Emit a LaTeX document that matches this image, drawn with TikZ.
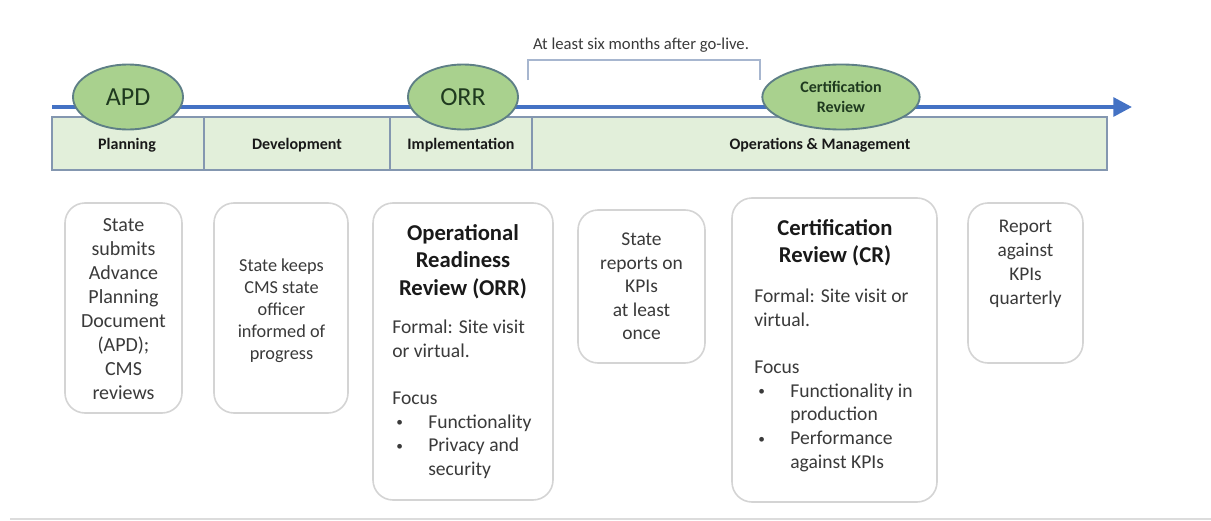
\documentclass[tikz,border=0pt]{standalone}
\usepackage{fontspec}
\setmainfont{Carlito}
\usetikzlibrary{arrows.meta,shapes.geometric}

\definecolor{tlblue}{HTML}{4472C4}
\definecolor{phasefill}{HTML}{E2EFDA}
\definecolor{phaseedge}{HTML}{8497B0}
\definecolor{msfill}{HTML}{A9D18E}
\definecolor{msedge}{HTML}{5E7F86}
\definecolor{mstext}{HTML}{1F3A1F}
\definecolor{cardedge}{HTML}{D4D4D4}
\definecolor{bodytext}{HTML}{3A3A3A}
\definecolor{bracketc}{HTML}{A7B6CF}
\definecolor{rulegray}{HTML}{DCDCDC}

\tikzset{
  phasecell/.style={draw=phaseedge, line width=1.4pt, fill=phasefill},
  phaselabel/.style={font=\bfseries\fontsize{12pt}{14pt}\selectfont, text=black!90, inner sep=0pt},
  milestone/.style={ellipse, draw=msedge, line width=1.4pt, fill=msfill, inner sep=0pt,
    minimum height=48.75pt, text=mstext, align=center},
  card/.style={draw=cardedge, line width=1.2pt, fill=white, rounded corners=15pt},
  cardtext/.style={text=bodytext, inner sep=0pt, align=center, anchor=north},
  cardtitle/.style={text=black!90, inner sep=0pt, align=center, anchor=north,
    font=\bfseries\fontsize{17pt}{20.6pt}\selectfont},
  cardbody/.style={text=bodytext, inner sep=0pt, align=left, anchor=north west,
    font=\fontsize{14.7pt}{17.7pt}\selectfont},
}

% small bullet followed by a fixed indent; \bulgap indents a wrapped line to match
\newcommand{\bul}{\hspace*{3pt}\makebox[24pt][l]{\raisebox{1pt}{\fontsize{10pt}{10pt}\selectfont\textbullet}}}
\newcommand{\bulgap}{\hspace*{27pt}}

\begin{document}
\begin{tikzpicture}[x=0.75pt,y=-0.75pt]
\useasboundingbox (0,0) rectangle (1211,521);

% timeline arrow
\coordinate (tstart) at (52,107);
\coordinate (tend) at (1132,107);
\draw[tlblue, line width=3pt, -{Triangle[length=14pt,width=14pt]}] (tstart) -- (tend);

% duration bracket and its note
\coordinate (brL) at (528,80);
\coordinate (brR) at (760,80);
\draw[bracketc, line width=1.1pt] (brL) -- (528,60) -- (760,60) -- (brR);
\node[text=bodytext, inner sep=0pt, font=\fontsize{12.5pt}{15pt}\selectfont] (note) at (641,45)
  {At least six months after go-live.};

% phase bar
\draw[phasecell] (52,117) rectangle (204,170);
\draw[phasecell] (204,117) rectangle (390,170);
\draw[phasecell] (390,117) rectangle (532,170);
\draw[phasecell] (532,117) rectangle (1107,170);
\node[phaselabel] (planning) at (127,145) {Planning};
\node[phaselabel] (development) at (297,145) {Development};
\node[phaselabel] (implementation) at (461,145) {Implementation};
\node[phaselabel] (operations) at (820,145) {Operations \& Management};

% milestones
\node[milestone, minimum width=82.5pt, font=\fontsize{19.5pt}{23pt}\selectfont] (apd) at (128,97) {APD};
\node[milestone, minimum width=82.5pt, font=\fontsize{19.5pt}{23pt}\selectfont] (orr) at (463,97) {ORR};
\node[milestone, minimum width=118pt, font=\bfseries\fontsize{12pt}{15pt}\selectfont] (cr) at (841,97) {Certification\\Review};

% cards
\draw[card] (65,203) rectangle (182,413);
\draw[card] (214,203) rectangle (348,413);
\draw[card] (373,203) rectangle (553,500);
\draw[card] (578,210) rectangle (705,363);
\draw[card] (732,198) rectangle (937,502);
\draw[card] (968,203) rectangle (1083,363);

\node[cardtext, font=\fontsize{15pt}{18pt}\selectfont] (apdtext) at (123.5,218)
  {State\\submits\\Advance\\Planning\\Document\\(APD);\\CMS\\reviews};

\node[cardtext, font=\fontsize{13.7pt}{16.5pt}\selectfont] (devtext) at (281.5,258.5)
  {State keeps\\CMS state\\officer\\informed of\\progress};

\node[cardtitle] (orrtitle) at (463,224) {Operational\\Readiness\\Review (ORR)};
\node[cardbody] (orrbody) at (392,320)
  {Formal: Site visit\\or virtual.\\[17.7pt]Focus\\\bul Functionality\\\bul Privacy and\\\bulgap security};

\node[cardtext, font=\fontsize{14.6pt}{17.6pt}\selectfont] (kpitext) at (641.5,233)
  {State\\reports on\\KPIs\\at least\\once};

\node[cardtitle] (crtitle) at (835,219) {Certification\\Review (CR)};
\node[cardbody] (crbody) at (754,289)
  {Formal: Site visit or\\virtual.\\[17.7pt]Focus\\\bul Functionality in\\\bulgap production\\\bul Performance\\\bulgap against KPIs};

\node[cardtext, font=\fontsize{14.5pt}{18pt}\selectfont] (qtext) at (1025.5,220)
  {Report\\against\\KPIs\\quarterly};

% footer rule
\coordinate (ruleL) at (10,519);
\coordinate (ruleR) at (1211,519);
\draw[rulegray, line width=2pt] (ruleL) -- (ruleR);
\end{tikzpicture}
\end{document}
